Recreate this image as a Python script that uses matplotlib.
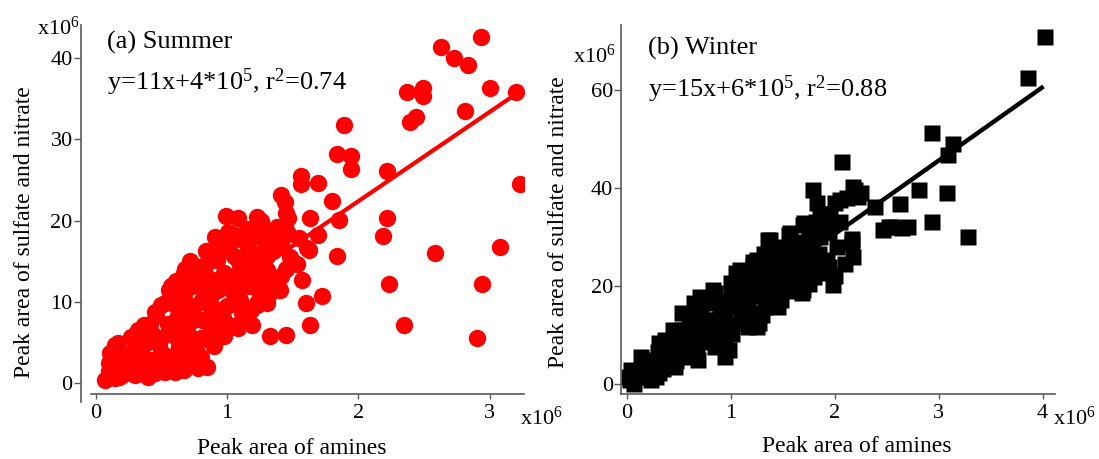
import matplotlib
matplotlib.use('Agg')
import matplotlib.pyplot as plt

plt.rcParams['font.family'] = ['Liberation Serif', 'DejaVu Serif']
plt.rcParams['mathtext.fontset'] = 'custom'
plt.rcParams['mathtext.rm'] = 'Liberation Serif'
plt.rcParams['mathtext.it'] = 'Liberation Serif:italic'
plt.rcParams['mathtext.default'] = 'regular'

# ---------------- data (units of 10^6) ----------------
summer_x = [2.63, 2.73, 2.83, 2.93, 3.00, 3.20, 2.81, 2.37, 2.49, 2.49, 2.39, 2.44, 1.89, 1.84, 1.94, 1.94,
            2.22, 3.23, 1.56, 1.56, 1.69, 1.41, 1.44, 1.80, 1.45, 1.46, 1.63, 1.85, 2.22, 0.99, 1.08, 1.23,
            1.26, 2.19, 2.58, 3.08, 1.84, 2.23, 2.94, 2.35, 2.90, 1.60, 1.72, 1.63, 1.33, 1.45, 1.19, 0.85,
            1.53, 1.57, 1.41, 1.62, 1.69, 1.46, 0.91, 0.84, 1.32, 1.23, 1.12, 0.98, 0.67, 0.60, 0.51, 0.39,
            0.30, 0.18, 0.07, 0.15, 0.12, 0.32, 0.41, 0.50, 0.56, 0.61, 0.68, 1.45, 1.61, 1.01, 1.29, 1.42,
            1.25, 0.57, 0.67, 0.79, 0.92, 1.05, 1.18, 1.30, 1.02, 1.12, 1.30, 1.25, 1.12, 0.92, 0.79, 0.67,
            1.05, 1.25, 1.40, 1.25, 0.15, 0.11, 0.17, 0.27, 0.37, 0.46, 0.53, 0.58, 0.40, 0.53, 1.23, 0.76,
            0.86, 0.30, 0.20, 0.43, 0.55, 0.63, 0.68, 0.81, 0.93, 1.06, 0.81, 0.68, 0.55, 0.43, 0.32, 0.25,
            0.93, 0.68, 1.14, 0.98, 1.11, 0.10, 0.22, 0.35, 0.48, 0.60, 0.72, 0.88, 0.62, 0.75, 0.87, 0.98,
            1.10, 0.78, 1.00, 0.72, 0.45, 0.90, 1.05, 1.15, 1.35,
            0.10, 0.20, 0.25, 0.35, 0.45, 0.50, 0.62, 0.70, 0.78, 0.20, 0.28, 0.38, 0.50, 0.60, 0.70, 0.80,
            0.90, 0.30, 0.40, 0.50, 0.58, 0.70, 0.80, 0.88, 1.08, 0.45, 0.60, 0.72, 0.85, 0.95, 1.10, 1.18,
            1.30, 0.62, 0.73, 0.85, 0.95, 1.05, 1.18, 1.35, 1.45, 0.72, 0.85, 0.95, 1.08, 1.20, 1.35, 1.48,
            0.92, 1.05, 1.15, 1.25, 1.38, 1.55,
            1.00, 1.15, 0.85, 1.20, 0.55, 0.75, 0.97, 1.32]
summer_y = [41.4, 40.0, 39.2, 42.6, 36.3, 35.9, 33.5, 35.8, 36.3, 35.3, 32.2, 32.7, 31.8, 28.2, 27.9, 26.3,
            26.1, 24.5, 25.5, 24.5, 24.6, 23.2, 22.3, 22.4, 20.9, 20.3, 20.3, 20.1, 20.3, 20.6, 20.3, 20.5,
            19.9, 18.1, 16.0, 16.7, 15.7, 12.2, 12.2, 7.1, 5.6, 9.8, 10.7, 7.1, 5.8, 5.9, 7.2, 2.0,
            14.7, 12.7, 13.2, 16.4, 18.2, 18.4, 18.0, 16.2, 11.0, 9.6, 8.4, 5.8, 1.6, 1.4, 1.6, 1.0,
            1.0, 0.8, 0.4, 4.7, 3.5, 6.5, 7.3, 9.6, 11.5, 12.6, 14.0, 18.8, 16.6, 18.6, 16.6, 16.8,
            19.3, 11.9, 13.5, 14.3, 15.1, 15.6, 14.7, 15.6, 17.2, 17.6, 13.9, 12.4, 12.7, 12.7, 11.9, 11.0,
            11.0, 10.6, 11.5, 14.7, 0.6, 3.7, 4.9, 5.7, 7.1, 8.2, 9.8, 11.5, 0.8, 1.4, 9.8, 4.1,
            5.3, 2.4, 2.0, 2.8, 3.2, 4.5, 6.5, 7.8, 9.0, 10.2, 10.2, 9.0, 7.3, 6.1, 4.5, 3.2,
            11.5, 11.5, 11.9, 7.8, 8.6, 1.5, 1.2, 3.5, 4.8, 5.8, 7.5, 8.5, 8.0, 9.5, 10.5, 13.5,
            14.0, 12.8, 9.5, 2.6, 2.0, 6.8, 7.0, 16.0, 17.8,
            2.5, 1.0, 2.2, 1.8, 1.2, 2.5, 2.2, 2.8, 1.8, 3.2, 4.0, 3.0, 3.8, 3.5, 4.2, 3.2,
            4.5, 5.5, 5.0, 5.5, 6.8, 6.0, 5.5, 6.5, 6.8, 8.8, 9.6, 9.0, 9.8, 8.2, 10.2, 9.0,
            9.8, 11.0, 12.0, 11.5, 11.8, 12.6, 12.0, 12.2, 14.0, 15.0, 14.8, 16.5, 15.2, 16.0, 16.2, 15.5,
            17.0, 18.2, 19.0, 18.0, 19.2, 17.8,
            16.8, 17.5, 13.0, 13.5, 6.0, 5.0, 17.8, 18.2]

winter_x = [4.02, 3.86, 2.94, 3.14, 3.09, 2.07, 2.81, 3.08, 1.79, 2.20, 2.23, 2.39, 2.63, 1.83, 1.86, 2.00,
            2.94, 2.52, 2.71, 1.71, 3.28, 2.47, 2.18, 1.99, 1.95, 1.69, 1.46, 1.25, 0.99,
            0.02, 0.04, 0.14, 0.31, 0.45, 0.65, 0.85, 1.05, 1.22, 1.36, 1.56, 0.07, 0.28, 0.48, 0.68, 0.95,
            1.90, 2.17, 0.03, 0.24, 0.31, 0.37, 0.47, 0.53, 0.66, 0.69, 0.79, 0.85, 0.95, 1.01, 1.17, 1.27,
            1.01, 1.17, 1.33, 1.49, 1.46, 0.53, 0.37, 0.21, 0.69, 0.85, 1.17, 0.08,
            2.18, 2.25, 2.65, 2.05, 1.96, 1.70, 2.17, 1.93, 1.80, 1.38, 1.57, 1.48, 1.25, 1.09, 1.00, 0.83,
            0.71, 1.70, 1.73, 1.86, 1.93, 1.64, 1.32, 1.57, 2.55,
            0.25, 0.40, 0.55, 0.60, 0.75, 0.90, 1.10, 1.15, 1.30, 1.40, 1.50, 1.35, 1.60, 1.20, 0.95, 1.05,
            1.50, 1.60, 1.80, 1.75, 0.60, 0.80,
            0.10, 0.15, 0.20, 0.28, 0.35, 0.30, 0.40, 0.45, 0.50, 0.58, 0.58, 0.62, 0.70, 0.72, 0.78, 0.80,
            0.88, 0.90, 0.95, 1.00, 1.00, 1.05, 1.10, 1.12, 1.15, 1.20, 1.25, 1.28, 1.30, 1.32, 1.38, 1.40,
            1.42, 1.45, 1.50, 1.55, 1.58, 1.62, 1.65, 1.68, 1.72, 1.75, 1.78, 1.82, 1.85, 1.88, 1.95, 2.02,
            2.05, 2.10, 2.12, 2.00,
            1.12, 1.22, 1.30, 1.42, 1.55, 0.92, 0.75]
winter_y = [70.9, 62.4, 51.3, 49.0, 46.7, 45.4, 39.7, 39.0, 39.7, 39.6, 38.2, 36.2, 36.7, 36.9, 34.8, 36.9,
            33.1, 32.1, 32.1, 32.8, 30.1, 31.4, 26.0, 20.2, 23.9, 18.5, 15.8, 11.7, 6.9,
            1.5, 2.9, 5.6, 8.3, 11.0, 16.5, 18.5, 22.6, 25.0, 29.4, 30.4, 0.1, 1.5, 4.6, 6.3, 9.0,
            22.6, 28.7, 0.8, 0.8, 2.2, 9.0, 3.5, 11.0, 13.7, 4.9, 16.5, 7.6, 5.6, 10.3, 11.7, 12.4,
            17.8, 19.9, 15.8, 17.1, 20.6, 14.4, 6.3, 4.2, 9.0, 13.1, 15.8, 1.5,
            40.3, 38.9, 31.8, 37.6, 34.8, 32.4, 29.7, 25.3, 21.9, 29.4, 30.8, 27.3, 25.3, 23.3, 20.6, 19.2,
            17.8, 19.2, 27.3, 30.1, 33.5, 22.6, 21.2, 26.0, 32.1,
            5.0, 7.0, 9.0, 12.0, 12.0, 15.0, 14.0, 18.0, 19.0, 22.0, 24.0, 25.0, 28.0, 22.0, 12.5, 16.0,
            20.0, 19.0, 25.0, 30.0, 7.5, 10.5,
            2.5, 1.5, 3.0, 4.0, 3.0, 6.5, 5.0, 8.5, 6.5, 10.5, 5.5, 8.0, 11.0, 14.5, 8.5, 13.0,
            10.0, 17.0, 14.0, 12.0, 18.5, 20.5, 12.5, 17.0, 21.0, 14.5, 23.0, 18.0, 14.0, 26.5, 20.0, 17.0,
            24.0, 28.0, 22.0, 19.5, 24.5, 29.0, 21.0, 26.0, 23.5, 20.5, 28.5, 33.0, 26.5, 24.0, 31.0, 28.0,
            33.0, 24.5, 38.0, 22.0,
            20.0, 24.0, 22.5, 26.5, 27.5, 16.5, 10.0]

summer_fit = (11.0, 0.4)      # slope, intercept (x10^6)
winter_fit = (15.0, 0.6)
summer_fit_range = [0.07, 3.19]
winter_fit_range = [0.03, 4.01]

# ---------------- figure ----------------
W, H = 1099, 459
fig = plt.figure(figsize=(W / 100, H / 100), dpi=100)

def fx(px):
    return px / W

def fy(py):
    return 1 - py / H

spine_col = '#5a5a5a'
ax1 = fig.add_axes([fx(90.5), fy(394), 433.5 / W, 369 / H])
ax2 = fig.add_axes([fx(621.2), fy(394), 433.8 / W, 369 / H])

ax1.plot(summer_x, summer_y, 'o', color='#ff0000', ms=12.5, mec='none', zorder=2)
ax1.plot(summer_fit_range, [summer_fit[0] * x + summer_fit[1] for x in summer_fit_range],
         color='#ff0000', lw=3, solid_capstyle='butt', zorder=3)
ax2.plot(winter_x, winter_y, 's', color='black', ms=11.5, mec='none', zorder=2)
ax2.plot(winter_fit_range, [winter_fit[0] * x + winter_fit[1] for x in winter_fit_range],
         color='black', lw=3.2, solid_capstyle='butt', zorder=3)

ax1.set_xlim(-0.04, 3.26)
ax1.set_ylim(-1.35, 44.09)
ax1.set_xticks([0, 1, 2, 3])
ax1.set_yticks([0, 10, 20, 30, 40])
ax2.set_xlim(-0.051, 4.12)
ax2.set_ylim(-2.04, 73.3)
ax2.set_xticks([0, 1, 2, 3, 4])
ax2.set_yticks([0, 20, 40, 60])

for ax in (ax1, ax2):
    ax.spines['top'].set_visible(False)
    ax.spines['right'].set_visible(False)
    for s in ('left', 'bottom'):
        ax.spines[s].set_color(spine_col)
        ax.spines[s].set_linewidth(1.2)
    ax.tick_params(axis='both', direction='out', color=spine_col, width=1.0,
                   labelsize=16, labelcolor='black')
    ax.tick_params(axis='x', length=3.5, pad=4)
    ax.tick_params(axis='y', length=5, pad=1)
    ax.patch.set_alpha(0)

ax1.spines['left'].set_position(('outward', 9.5 * 0.72))
ax1.spines['left'].set_bounds(-2.34, 44.09)

# axis labels
fig.text(fx(292), fy(448), 'Peak area of amines', fontsize=17, ha='center', va='center')
fig.text(fx(857), fy(447), 'Peak area of amines', fontsize=17, ha='center', va='center')
fig.text(fx(25), fy(232), 'Peak area of sulfate and nitrate', fontsize=17, ha='center',
         va='center', rotation=90)
fig.text(fx(558), fy(222), 'Peak area of sulfate and nitrate', fontsize=17, ha='center',
         va='center', rotation=90)

# multiplier labels
mult = r'x10$^{6}$'
fig.text(fx(37), fy(35), mult, fontsize=16, ha='left', va='baseline')
fig.text(fx(520), fy(425), mult, fontsize=16, ha='left', va='baseline')
fig.text(fx(573), fy(63), mult, fontsize=16, ha='left', va='baseline')
fig.text(fx(1053), fy(425), mult, fontsize=16, ha='left', va='baseline')

# annotations
fig.text(fx(107), fy(49), '(a) Summer', fontsize=19, ha='left', va='baseline')
fig.text(fx(107), fy(90), r'y=11x+4*10$^{5}$, r$^{2}$=0.74', fontsize=19, ha='left', va='baseline')
fig.text(fx(647.5), fy(55), '(b) Winter', fontsize=19, ha='left', va='baseline')
fig.text(fx(647.5), fy(97), r'y=15x+6*10$^{5}$, r$^{2}$=0.88', fontsize=19, ha='left', va='baseline')

fig.savefig('out.png', dpi=100)
